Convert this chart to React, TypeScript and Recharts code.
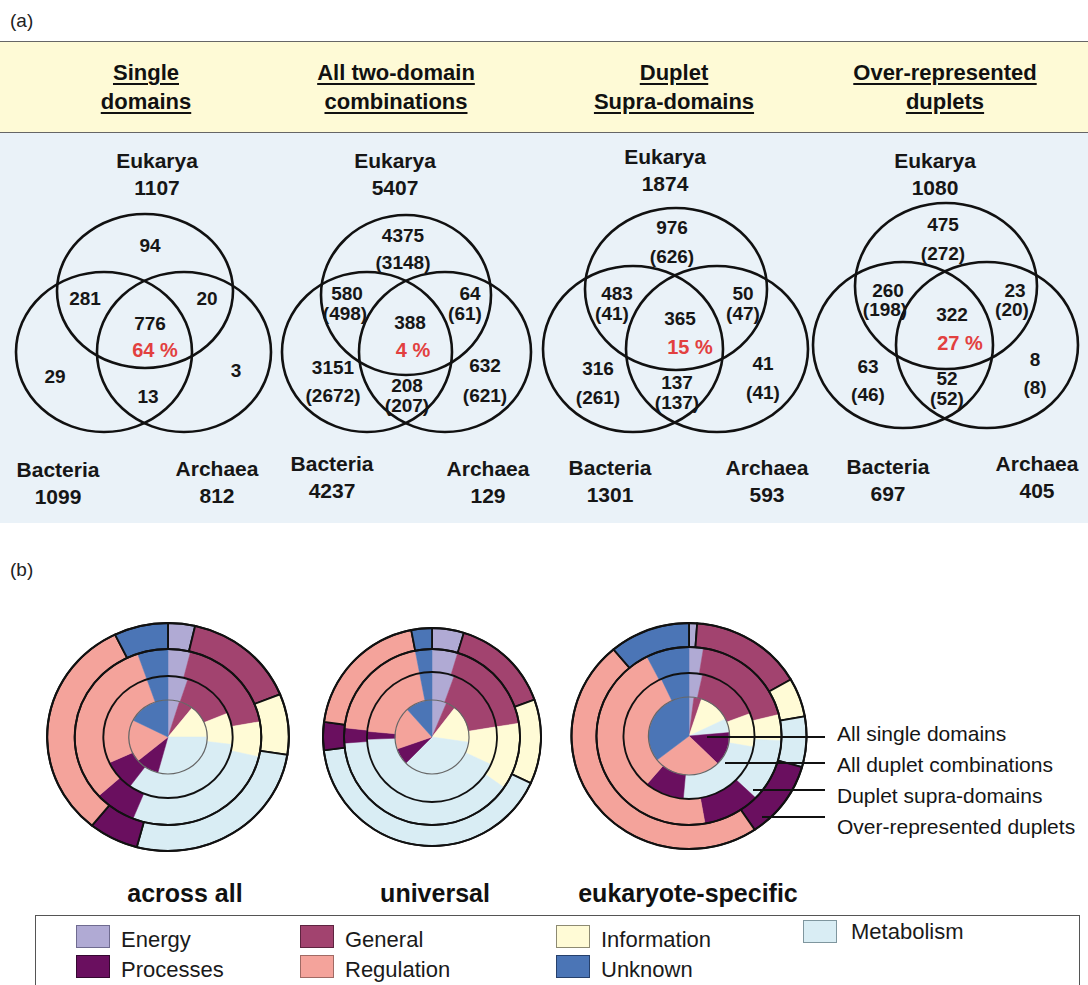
import React from 'react';
import { PieChart, Pie, Cell, ScatterChart, Scatter, XAxis, YAxis } from 'recharts';

const FONT = '"Liberation Sans", Arial, Helvetica, sans-serif';

// ---------------- (a) Venn data ----------------
const panelTitles = [
  ['Single', 'domains'],
  ['All two-domain', 'combinations'],
  ['Duplet', 'Supra-domains'],
  ['Over-represented', 'duplets'],
];
const eukaryaTotals = [1107, 5407, 1874, 1080];
const bacteriaTotals = [1099, 4237, 1301, 697];
const archaeaTotals = [812, 129, 593, 405];
const universalPercent = [64, 4, 15, 27];
// region order: Eukarya only, Euk+Bac, Euk+Arc, all three, Bacteria only, Archaea only, Bac+Arc
const singleDomainCounts = [94, 281, 20, 776, 29, 3, 13];
const singleDomainSub = [null, null, null, null, null, null, null];
const twoDomainCounts = [4375, 580, 64, 388, 3151, 632, 208];
const twoDomainSub = [3148, 498, 61, null, 2672, 621, 207];
const supraCounts = [976, 483, 50, 365, 316, 41, 137];
const supraSub = [626, 41, 47, null, 261, 41, 137];
const overRepCounts = [475, 260, 23, 322, 63, 8, 52];
const overRepSub = [272, 198, 20, null, 46, 8, 52];

const panelCounts = [singleDomainCounts, twoDomainCounts, supraCounts, overRepCounts];
const panelSubs = [singleDomainSub, twoDomainSub, supraSub, overRepSub];

// ---------------- (b) ring-chart data ----------------
const categories = ['Energy', 'General', 'Information', 'Metabolism', 'Processes', 'Regulation', 'Unknown'];
const ringNames = ['All single domains', 'All duplet combinations', 'Duplet supra-domains', 'Over-represented duplets'];
const pieTitles = ['across all', 'universal', 'eukaryote-specific'];
// angular shares (out of 360), inner ring -> outer ring
const acrossAllSingle = [17, 21, 52, 105, 35, 67, 63];
const acrossAllDuplet = [18, 49, 30, 119, 29, 96, 19];
const acrossAllSupra = [14, 66, 23, 99, 26, 113, 19];
const acrossAllOverRep = [13, 55, 31, 96, 24, 115, 26];
const universalSingle = [23, 15, 60, 127, 26, 67, 42];
const universalDuplet = [20, 61, 34, 153, 7, 74, 11];
const universalSupra = [17, 64, 44, 141, 10, 73, 11];
const universalOverRep = [17, 53, 45, 148, 15, 71, 11];
const eukSingle = [7, 11, 46, 21, 50, 97, 128];
const eukDuplet = [12, 57, 31, 85, 35, 115, 25];
const eukSupra = [9, 67, 17, 41, 36, 163, 27];
const eukOverRep = [4, 56, 20, 26, 40, 174, 40];

// ---------------- styles / layout ----------------
const CAT_COLORS = ['#B0AAD4', '#A2436F', '#FFFBD6', '#D9EDF4', '#6A0F5F', '#F4A39B', '#4B75B6'];
const CAT_BORDERS = ['#6f6b90', '#5e2440', '#8d8a72', '#7f969e', '#350730', '#a06a64', '#26406b'];

type Venn = {
  circles: number[][];
  euk: number[];
  bac: number[];
  arc: number[];
  regions: number[][];
  subs: number[][];
  pct: number[];
};
const vennLayout: Venn[] = [
  {
    circles: [[145, 291, 88, 77], [104, 352, 88, 80], [184, 352, 87, 80]],
    euk: [157, 160], bac: [58, 469], arc: [217, 468],
    regions: [[150, 245], [85, 298], [207, 298], [150, 323], [55, 376], [236, 370], [148, 396]],
    subs: [[0, 0], [0, 0], [0, 0], [0, 0], [0, 0], [0, 0], [0, 0]],
    pct: [155, 350],
  },
  {
    circles: [[406, 295, 85, 80], [367, 352, 85, 80], [445, 352, 86, 80]],
    euk: [395, 160], bac: [332, 463], arc: [488, 468],
    regions: [[403, 235], [347, 293], [470, 293], [410, 322], [333, 367], [485, 365], [407, 385]],
    subs: [[403, 262], [345, 313], [465, 313], [0, 0], [333, 395], [485, 395], [407, 405]],
    pct: [413, 350],
  },
  {
    circles: [[676, 289, 91, 81], [633, 349, 90, 83], [717, 349, 91, 83]],
    euk: [665, 156], bac: [610, 467], arc: [767, 467],
    regions: [[672, 227], [617, 293], [743, 293], [680, 318], [598, 368], [763, 363], [677, 382]],
    subs: [[672, 256], [612, 313], [743, 313], [0, 0], [598, 397], [763, 392], [677, 402]],
    pct: [690, 347],
  },
  {
    circles: [[946, 286, 91, 83], [903, 345, 90, 83], [987, 345, 91, 83]],
    euk: [935, 160], bac: [888, 466], arc: [1037, 463],
    regions: [[943, 224], [888, 290], [1015, 290], [952, 314], [868, 366], [1035, 359], [947, 378]],
    subs: [[943, 253], [885, 309], [1012, 309], [0, 0], [868, 394], [1035, 387], [947, 398]],
    pct: [960, 343],
  },
];
const headerCenters = [146, 396, 674, 945];

const VENN_TOP = 133;
const VENN_BOTTOM = 523;

type TextPt = { x: number; y: number; text: string; kind: 'label' | 'num' | 'pct' };

function buildVennTexts(): TextPt[] {
  const pts: TextPt[] = [];
  vennLayout.forEach((L, p) => {
    pts.push({ x: L.euk[0], y: L.euk[1], text: 'Eukarya', kind: 'label' });
    pts.push({ x: L.euk[0], y: L.euk[1] + 27, text: String(eukaryaTotals[p]), kind: 'label' });
    pts.push({ x: L.bac[0], y: L.bac[1], text: 'Bacteria', kind: 'label' });
    pts.push({ x: L.bac[0], y: L.bac[1] + 27, text: String(bacteriaTotals[p]), kind: 'label' });
    pts.push({ x: L.arc[0], y: L.arc[1], text: 'Archaea', kind: 'label' });
    pts.push({ x: L.arc[0], y: L.arc[1] + 27, text: String(archaeaTotals[p]), kind: 'label' });
    panelCounts[p].forEach((v, i) => {
      pts.push({ x: L.regions[i][0], y: L.regions[i][1], text: String(v), kind: 'num' });
      const s = panelSubs[p][i];
      if (s !== null && s !== undefined) {
        pts.push({ x: L.subs[i][0], y: L.subs[i][1], text: `(${s})`, kind: 'num' });
      }
    });
    pts.push({ x: L.pct[0], y: L.pct[1], text: `${universalPercent[p]} %`, kind: 'pct' });
  });
  return pts;
}

function buildVennCircles() {
  const c: { x: number; y: number; rx: number; ry: number }[] = [];
  vennLayout.forEach((L) => L.circles.forEach((k) => c.push({ x: k[0], y: k[1], rx: k[2], ry: k[3] })));
  return c;
}

const EllipseShape = (props: any) => {
  const { cx, cy, payload } = props;
  if (cx == null || cy == null) return <g />;
  return <ellipse cx={cx} cy={cy} rx={payload.rx} ry={payload.ry} fill="none" stroke="#111" strokeWidth={2.6} />;
};

const TextShape = (props: any) => {
  const { cx, cy, payload } = props;
  if (cx == null || cy == null) return <g />;
  const k = payload.kind;
  return (
    <text
      x={cx}
      y={cy}
      textAnchor="middle"
      dominantBaseline="central"
      fontFamily={FONT}
      fontWeight={700}
      fontSize={k === 'label' ? 21 : k === 'pct' ? 20 : 19}
      fill={k === 'pct' ? '#E2403F' : '#161616'}
    >
      {payload.text}
    </text>
  );
};

function VennChart() {
  const circles = buildVennCircles();
  const texts = buildVennTexts();
  return (
    <ScatterChart width={1088} height={VENN_BOTTOM - VENN_TOP} margin={{ top: 0, right: 0, bottom: 0, left: 0 }}>
      <XAxis type="number" dataKey="x" domain={[0, 1088]} hide />
      <YAxis type="number" dataKey="y" domain={[VENN_TOP, VENN_BOTTOM]} reversed hide />
      <Scatter data={circles} shape={EllipseShape} isAnimationActive={false} />
      <Scatter data={texts} shape={TextShape} isAnimationActive={false} />
    </ScatterChart>
  );
}

function toData(values: number[]) {
  return values.map((v, i) => ({ name: categories[i], value: v }));
}

type RingProps = { rings: number[][]; radii: number[]; size: number };
function RingPie({ rings, radii, size }: RingProps) {
  const c = size / 2;
  const outlineColors = ['#666', '#111', '#111', '#111'];
  const outlineWidths = [1.2, 1.8, 1.8, 2];
  return (
    <PieChart width={size} height={size} margin={{ top: 0, right: 0, bottom: 0, left: 0 }}>
      {rings.map((vals, i) => (
        <Pie
          key={'r' + i}
          data={toData(vals)}
          dataKey="value"
          nameKey="name"
          cx={c}
          cy={c}
          innerRadius={radii[i]}
          outerRadius={radii[i + 1]}
          startAngle={90}
          endAngle={-270}
          isAnimationActive={false}
          label={false}
          labelLine={false}
        >
          {vals.map((_, j) => (
            <Cell
              key={j}
              fill={CAT_COLORS[j]}
              stroke={i === 3 ? '#111' : CAT_COLORS[j]}
              strokeWidth={i === 3 ? 1.8 : 0.5}
            />
          ))}
        </Pie>
      ))}
      {radii.slice(1).map((r, i) => (
        <Pie
          key={'o' + i}
          data={[{ name: 'ring', value: 1 }]}
          dataKey="value"
          cx={c}
          cy={c}
          innerRadius={r}
          outerRadius={r}
          startAngle={90}
          endAngle={-270}
          isAnimationActive={false}
          fill="none"
          stroke={outlineColors[i]}
          strokeWidth={outlineWidths[i]}
          label={false}
          labelLine={false}
        />
      ))}
    </PieChart>
  );
}

const pies = [
  { rings: [acrossAllSingle, acrossAllDuplet, acrossAllSupra, acrossAllOverRep], radii: [0, 37, 61, 88, 114], center: [168, 737], stretch: 1.06, title: 185 },
  { rings: [universalSingle, universalDuplet, universalSupra, universalOverRep], radii: [0, 37, 65, 88, 109], center: [432, 737], stretch: 1.0, title: 435 },
  { rings: [eukSingle, eukDuplet, eukSupra, eukOverRep], radii: [0, 39, 63, 89, 113], center: [689, 736], stretch: 1.04, title: 688 },
];

const annotLines = [
  [707, 737, 825, 733],
  [725, 763, 825, 764],
  [753, 790, 825, 795],
  [762, 817, 825, 826],
];
const legendCols = [76, 300, 556, 803];

export default function App() {
  const PIE_SIZE = 250;
  return (
    <div style={{ position: 'absolute', left: 0, top: 0, width: 1088, height: 985, background: '#fff', fontFamily: FONT, overflow: 'hidden' }}>
      <div style={{ position: 'absolute', left: 10, top: 10, fontSize: 19, color: '#222' }}>(a)</div>
      {/* header */}
      <div style={{ position: 'absolute', left: 0, top: 41, width: 1088, height: 90, background: '#FEFAD6', borderTop: '1.5px solid #666', borderBottom: '1.5px solid #666' }} />
      {panelTitles.map((t, i) => (
        <div key={i} style={{ position: 'absolute', left: headerCenters[i] - 150, top: 58, width: 300, textAlign: 'center', fontWeight: 700, fontSize: 22, lineHeight: '29px', color: '#111', textDecoration: 'underline', textUnderlineOffset: 3 }}>
          {t[0]}
          <br />
          {t[1]}
        </div>
      ))}
      <div style={{ position: 'absolute', left: 0, top: VENN_TOP, width: 1088, height: VENN_BOTTOM - VENN_TOP, background: '#EAF2F8' }} />
      <div style={{ position: 'absolute', left: 0, top: VENN_TOP }}>
        <VennChart />
      </div>

      <div style={{ position: 'absolute', left: 10, top: 559, fontSize: 19, color: '#222' }}>(b)</div>
      {pies.map((p, i) => (
        <div
          key={i}
          style={{
            position: 'absolute',
            left: p.center[0] - PIE_SIZE / 2,
            top: p.center[1] - PIE_SIZE / 2,
            width: PIE_SIZE,
            height: PIE_SIZE,
            transform: `scaleX(${p.stretch})`,
            transformOrigin: '50% 50%',
          }}
        >
          <RingPie rings={p.rings} radii={p.radii} size={PIE_SIZE} />
        </div>
      ))}
      <svg style={{ position: 'absolute', left: 0, top: 0 }} width={1088} height={985}>
        {annotLines.map((l, i) => (
          <g key={i}>
            <line x1={l[0]} y1={l[1]} x2={l[2]} y2={l[1]} stroke="#111" strokeWidth={2} />
            <text x={837} y={l[3]} dominantBaseline="central" fontFamily={FONT} fontSize={21} fill="#151515">
              {ringNames[i]}
            </text>
          </g>
        ))}
      </svg>
      {pies.map((p, i) => (
        <div key={'t' + i} style={{ position: 'absolute', left: p.title - 150, top: 878, width: 300, textAlign: 'center', fontWeight: 700, fontSize: 25, lineHeight: '30px', color: '#111' }}>
          {pieTitles[i]}
        </div>
      ))}
      {/* legend */}
      <div style={{ position: 'absolute', left: 35, top: 915, width: 1045, height: 90, border: '1.5px solid #555', boxSizing: 'border-box' }} />
      {categories.map((c, i) => {
        const row = i < 4 ? 0 : 1;
        const col = i < 4 ? i : i - 4;
        const top = row === 0 ? (i === 3 ? 920 : 925) : 955;
        return (
          <div key={c} style={{ position: 'absolute', left: legendCols[col], top }}>
            <div style={{ position: 'absolute', left: 0, top: 0, width: 34, height: 23, background: CAT_COLORS[i], border: `1.5px solid ${CAT_BORDERS[i]}`, boxSizing: 'border-box' }} />
            <div style={{ position: 'absolute', left: i === 3 ? 48 : 45, top: i === 3 ? -1 : 2, fontSize: 22, lineHeight: '26px', color: '#1a1a1a', whiteSpace: 'nowrap' }}>{c}</div>
          </div>
        );
      })}
    </div>
  );
}
